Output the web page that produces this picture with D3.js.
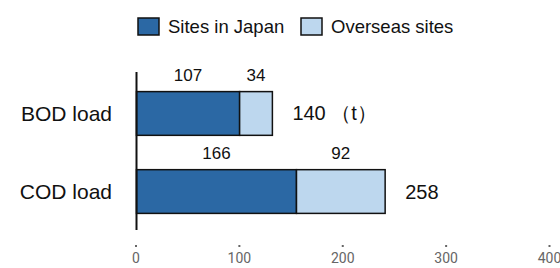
<!DOCTYPE html>
<html lang="en">
<head>
    <meta charset="utf-8">
    <title>BOD / COD load</title>
    <script src="https://d3js.org/d3.v7.min.js"></script>
    <style>
        body { margin: 0; background: #fff; }
        svg text { font-family: "Liberation Sans", Arial, sans-serif; }
    </style>
</head>
<body>
<script>
    // data
    const categories = ["BOD load", "COD load"];
    const seriesNames = ["Sites in Japan", "Overseas sites"];
    const japan = [107, 166];
    const overseas = [34, 92];
    const totalLabels = ["140 （t）", "258"];
    const tickValues = [0, 100, 200, 300, 400];

    const colors = ["#2b68a4", "#bdd7ee"];

    const width = 560, height = 268;

    const svg = d3.select("body").append("svg")
        .attr("width", width)
        .attr("height", height);

    // scale for the bars
    const x = d3.scaleLinear().domain([0, 400]).range([136.5, 522]);
    // the tick axis underneath is drawn on a slightly wider scale
    const xAxisScale = d3.scaleLinear().domain([0, 400]).range([135.5, 549]);

    const y = d3.scaleBand().domain(categories).range([76, 229]).paddingInner(0.44).paddingOuter(0.2);

    const rows = categories.map((c, i) => ({cat: c, japan: japan[i], overseas: overseas[i], total: totalLabels[i]}));
    const stacked = d3.stack().keys(["japan", "overseas"])(rows);

    // bars
    svg.append("g").selectAll("g")
        .data(stacked)
        .join("g")
        .attr("fill", (d, i) => colors[i])
        .selectAll("rect")
        .data(d => d)
        .join("rect")
        .attr("x", d => x(d[0]))
        .attr("y", d => y(d.data.cat))
        .attr("width", d => x(d[1]) - x(d[0]))
        .attr("height", y.bandwidth())
        .attr("stroke", "#111")
        .attr("stroke-width", 1.5);

    // segment values above bars
    svg.append("g").selectAll("g")
        .data(stacked)
        .join("g")
        .selectAll("text")
        .data(d => d)
        .join("text")
        .attr("x", d => (x(d[0]) + x(d[1])) / 2)
        .attr("y", d => y(d.data.cat) - 11)
        .attr("text-anchor", "middle")
        .attr("font-size", 17)
        .attr("fill", "#111")
        .text(d => d[1] - d[0]);

    // totals
    svg.append("g").selectAll("text")
        .data(rows)
        .join("text")
        .attr("x", d => x(d.japan + d.overseas) + 20)
        .attr("y", d => y(d.cat) + y.bandwidth() / 2)
        .attr("dy", "0.35em")
        .attr("font-size", 20)
        .attr("fill", "#111")
        .text(d => d.total);

    // category labels
    svg.append("g").selectAll("text")
        .data(categories)
        .join("text")
        .attr("x", 112)
        .attr("y", d => y(d) + y.bandwidth() / 2)
        .attr("dy", "0.35em")
        .attr("text-anchor", "end")
        .attr("font-size", 21)
        .attr("fill", "#111")
        .text(d => d);

    // vertical axis line
    svg.append("line")
        .attr("x1", x(0)).attr("x2", x(0))
        .attr("y1", 72).attr("y2", 230)
        .attr("stroke", "#111")
        .attr("stroke-width", 2);

    // bottom tick axis
    const ax = svg.append("g")
        .attr("transform", "translate(0,245)")
        .call(d3.axisBottom(xAxisScale).tickValues(tickValues).tickSize(2).tickPadding(6));
    ax.select(".domain").remove();
    ax.selectAll(".tick line").attr("stroke", "#666").attr("stroke-width", 2);
    ax.selectAll(".tick text")
        .attr("fill", "#666")
        .attr("font-size", 14)
        .style("font-family", "Roboto, sans-serif");

    // legend
    const legendX = [138, 301];
    const legend = svg.append("g").selectAll("g")
        .data(seriesNames)
        .join("g")
        .attr("transform", (d, i) => "translate(" + legendX[i] + ",18)");
    legend.append("rect")
        .attr("width", 21).attr("height", 17)
        .attr("fill", (d, i) => colors[i])
        .attr("stroke", "#111")
        .attr("stroke-width", 1.5);
    legend.append("text")
        .attr("x", 30)
        .attr("y", 9)
        .attr("dy", "0.35em")
        .attr("font-size", 18.5)
        .attr("fill", "#111")
        .text(d => d);
</script>
</body>
</html>
